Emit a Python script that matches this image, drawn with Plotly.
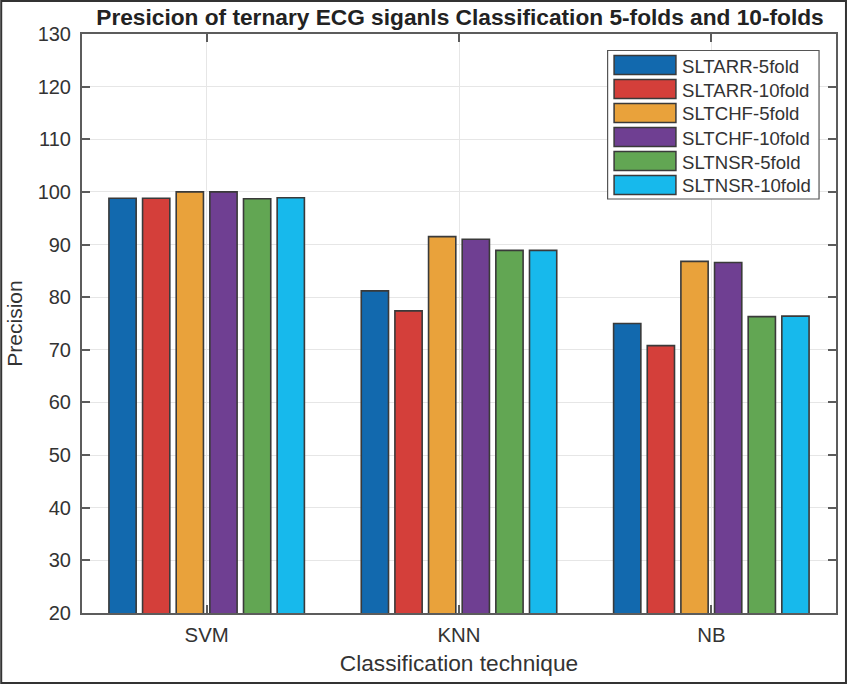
import plotly.graph_objects as go

categories = ['SVM', 'KNN', 'NB']
sltarr_5fold = [98.8, 81.2, 75.0]
sltarr_10fold = [98.8, 77.4, 70.8]
sltchf_5fold = [100.0, 91.5, 86.8]
sltchf_10fold = [100.0, 91.0, 86.6]
sltnsr_5fold = [98.7, 88.9, 76.3]
sltnsr_10fold = [98.9, 88.9, 76.4]
y_ticks = [20, 30, 40, 50, 60, 70, 80, 90, 100, 110, 120, 130]

series = [
    ('SLTARR-5fold', sltarr_5fold, '#1269ae'),
    ('SLTARR-10fold', sltarr_10fold, '#d43f3a'),
    ('SLTCHF-5fold', sltchf_5fold, '#e9a23b'),
    ('SLTCHF-10fold', sltchf_10fold, '#6f3f92'),
    ('SLTNSR-5fold', sltnsr_5fold, '#62a653'),
    ('SLTNSR-10fold', sltnsr_10fold, '#17b9ec'),
]

WIDTH, HEIGHT = 849, 684
LEFT, RIGHT, TOP, BOTTOM = 82, 838, 34, 613
EDGE = '#3a3a3a'
AXIS = '#5c5c5c'
TEXT = '#333333'
FONT = 'Liberation Sans'


# pixel position on the page -> paper coordinates
def px(x):
    return (x - LEFT) / (RIGHT - LEFT)


def py(y):
    return (BOTTOM - y) / (BOTTOM - TOP)


fig = go.Figure()
for name, values, color in series:
    fig.add_trace(go.Bar(x=categories, y=values, name=name,
                         marker=dict(color=color, line=dict(color=EDGE, width=1.6))))

shapes = [
    # outer frame of the picture
    dict(type='rect', xref='paper', yref='paper', x0=px(1), x1=px(WIDTH - 1), y0=py(HEIGHT - 1), y1=py(1),
         line=dict(color='#333333', width=2), layer='below'),
    # legend box
    dict(type='rect', xref='paper', yref='paper', x0=px(609), x1=px(821), y0=py(199), y1=py(50.5),
         fillcolor='white', line=dict(color='#555555', width=1.2)),
]
annotations = []
for i, (name, values, color) in enumerate(series):
    yc = 65 + i * 24
    shapes.append(dict(type='rect', xref='paper', yref='paper', x0=px(615.5), x1=px(677.5),
                       y0=py(yc + 9.5), y1=py(yc - 9.5), fillcolor=color,
                       line=dict(color=EDGE, width=1.5)))
    annotations.append(dict(xref='paper', yref='paper', x=px(682), y=py(yc + 1), text=name, showarrow=False,
                            xanchor='left', yanchor='middle', font=dict(family=FONT, size=18.6, color=TEXT)))

fig.update_layout(
    width=WIDTH, height=HEIGHT,
    autosize=False,
    margin=dict(l=LEFT, r=WIDTH - RIGHT, t=TOP, b=HEIGHT - BOTTOM),
    paper_bgcolor='white', plot_bgcolor='white',
    barmode='group', bargap=0.2, bargroupgap=0.19,
    showlegend=False,
    shapes=shapes,
    annotations=annotations,
    title=dict(text='<b>Presicion of ternary ECG siganls Classification 5-folds and 10-folds</b>',
               x=460 / WIDTH, xanchor='center', y=1 - 17 / HEIGHT, yanchor='middle',
               font=dict(family=FONT, size=22.7, color='#222222')),
    font=dict(family=FONT, color=TEXT),
    xaxis=dict(title=dict(text='Classification technique', font=dict(size=22.7, color=TEXT), standoff=10),
               range=[-0.494, 2.494], type='category',
               showline=True, linecolor=AXIS, linewidth=2, mirror='ticks',
               ticks='inside', ticklen=8, tickcolor=AXIS, tickwidth=1.5, tickfont=dict(size=20.4, color=TEXT),
               ticklabelstandoff=3,
               showgrid=True, gridcolor='#e6e6e6', gridwidth=1),
    yaxis=dict(title=dict(text='Precision', font=dict(size=21, color=TEXT), standoff=9),
               range=[20, 130], tickvals=y_ticks,
               showline=True, linecolor=AXIS, linewidth=2, mirror='ticks',
               ticks='inside', ticklen=8, tickcolor=AXIS, tickwidth=1.5, tickfont=dict(size=20, color=TEXT),
               ticklabelstandoff=5,
               showgrid=True, gridcolor='#e6e6e6', gridwidth=1, zeroline=False),
)

fig.write_html("out.html", config=dict(displayModeBar=False), post_script="document.body.style.margin='0';")
